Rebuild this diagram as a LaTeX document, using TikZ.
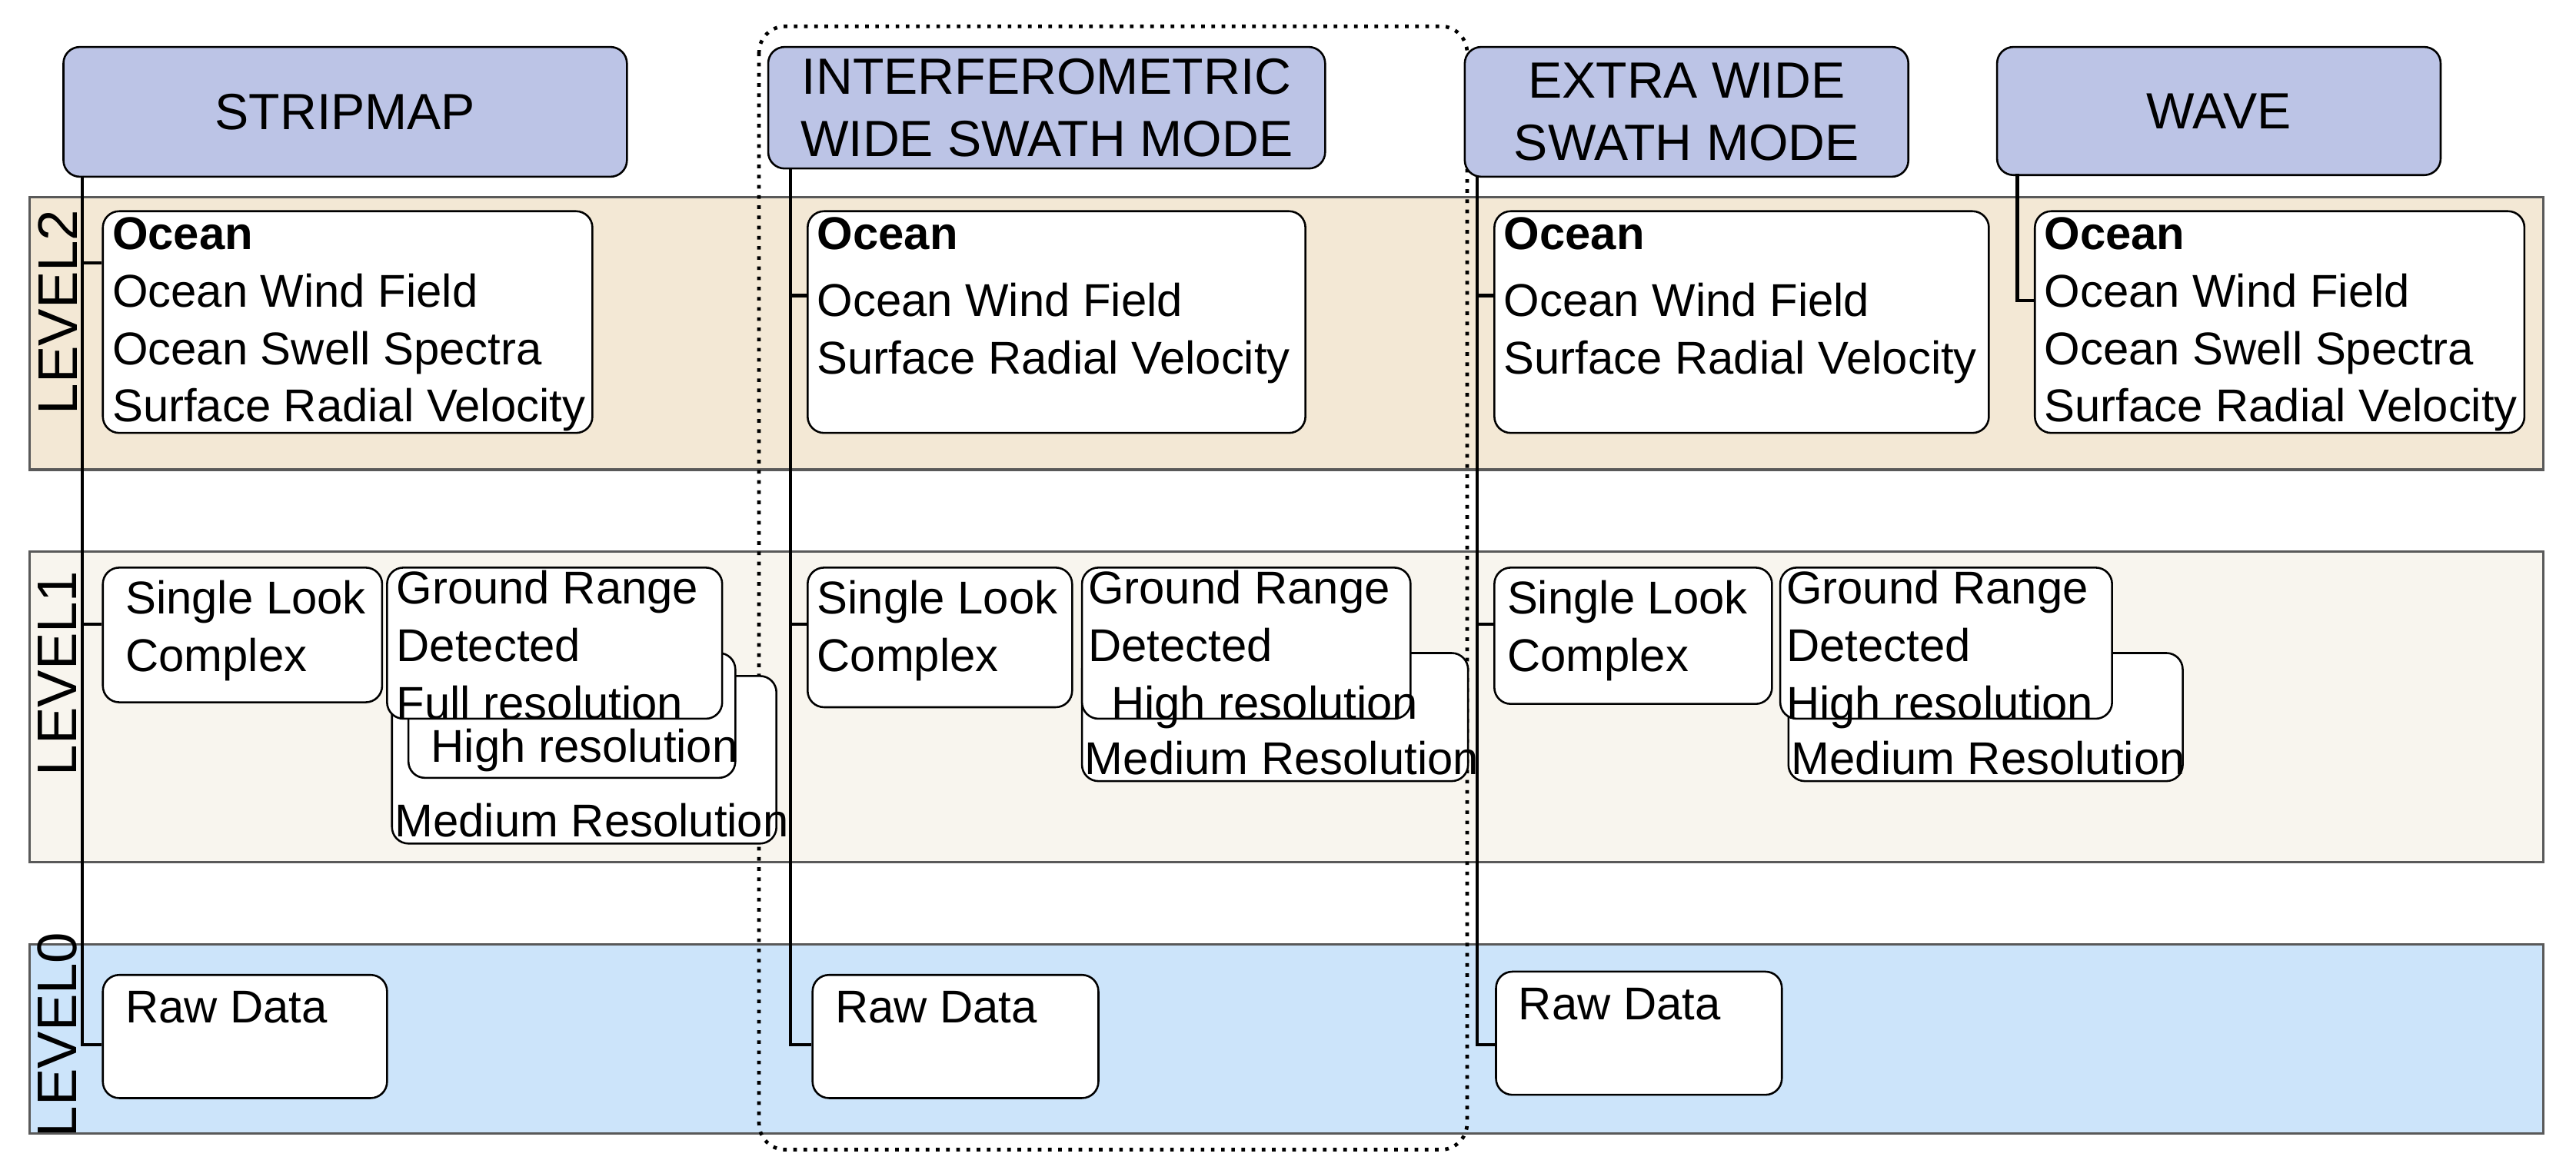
\documentclass[tikz,border=0pt]{standalone}
\usepackage{fontspec}
\setmainfont{Liberation Sans}
\definecolor{hdr}{HTML}{BCC4E6}
\definecolor{lvtwo}{HTML}{F3E8D5}
\definecolor{lvone}{HTML}{F8F5EE}
\definecolor{lvzero}{HTML}{CCE4FA}
\newcommand\mybox[5]{\node[box, anchor=north west, minimum width={(#4-#2)*0.5pt}, minimum height={(#5-#3)*0.5pt}] (#1) at (#2,#3) {};}
\begin{document}
\begin{tikzpicture}[x=0.5pt,y=-0.5pt,
  band/.style={draw=black!65, line width=0.75pt},
  box/.style={draw, fill=white, rounded corners=5pt, line width=0.6pt, inner sep=0pt},
  hbox/.style={draw, fill=hdr, rounded corners=5pt, line width=0.6pt, inner sep=0pt, font=\fontsize{15.5}{19}\selectfont, align=center},
  txt/.style={anchor=north west, inner sep=1pt, align=left, font=\fontsize{14}{17.5}\selectfont},
  lvl/.style={rotate=90, font=\fontsize{17}{19}\selectfont},
  conn/.style={line width=1pt}]
\useasboundingbox (0,0) rectangle (1568,712);
% bands
\fill[lvtwo] (18,120) rectangle (1548,286); \draw[band] (18,120) rectangle (1548,286);
\fill[lvone] (18,336) rectangle (1548,525); \draw[band] (18,336) rectangle (1548,525);
\fill[lvzero] (18,575) rectangle (1548,690); \draw[band] (18,575) rectangle (1548,690);
\node[lvl] (l2) at (35,190) {LEVEL2};
\node[lvl] (l1) at (35,410) {LEVEL1};
\node[lvl] (l0) at (35,630) {LEVEL0};
% dotted frame
\draw[dotted, line width=1.1pt, rounded corners=8pt] (462,16) rectangle (893,700);
% headers
\node[hbox, anchor=north west, minimum width={343*0.5pt}, minimum height={79*0.5pt}] (hs) at (38,28) {STRIPMAP};
\node[hbox, anchor=north west, minimum width={339*0.5pt}, minimum height={74*0.5pt}] (hi) at (467,28) {INTERFEROMETRIC\\WIDE SWATH MODE};
\node[hbox, anchor=north west, minimum width={270*0.5pt}, minimum height={79*0.5pt}] (he) at (891,28) {EXTRA WIDE\\SWATH MODE};
\node[hbox, anchor=north west, minimum width={270*0.5pt}, minimum height={78*0.5pt}] (hw) at (1215,28) {WAVE};
% level2
\mybox{s2}{62}{128}{360}{263}
\node[txt] (s2t) at ([xshift=2pt,yshift=-1pt]s2.north west) {\textbf{Ocean}\\Ocean Wind Field\\Ocean Swell Spectra\\Surface Radial Velocity};
\mybox{i2}{491}{128}{794}{263}
\node[txt] (i2t) at ([xshift=2pt,yshift=-1pt]i2.north west) {\textbf{Ocean}\\[0.2em]Ocean Wind Field\\Surface Radial Velocity};
\mybox{e2}{909}{128}{1210}{263}
\node[txt] (e2t) at ([xshift=2pt,yshift=-1pt]e2.north west) {\textbf{Ocean}\\[0.2em]Ocean Wind Field\\Surface Radial Velocity};
\mybox{w2}{1238}{128}{1536}{263}
\node[txt] (w2t) at ([xshift=2pt,yshift=-1pt]w2.north west) {\textbf{Ocean}\\Ocean Wind Field\\Ocean Swell Spectra\\Surface Radial Velocity};
% level1 stripmap
\mybox{s1a}{62}{345}{232}{427}
\node[txt] (s1at) at ([xshift=6pt,yshift=-3pt]s1a.north west) {Single Look\\Complex};
\mybox{s1m}{238}{411}{472}{513}
\node[txt, anchor=south west] (s1mt) at ([yshift=1pt]s1m.south west) {Medium Resolution};
\mybox{s1h}{248}{397}{447}{473}
\node[txt, anchor=south west] (s1ht) at ([xshift=6pt,yshift=1pt]s1h.south west) {High resolution};
\mybox{s1g}{235}{345}{439}{437}
\node[txt] (s1gt) at ([xshift=2pt,yshift=0pt]s1g.north west) {Ground Range\\Detected\\Full resolution};
% level1 IW
\mybox{i1a}{491}{345}{652}{430}
\node[txt] (i1at) at ([xshift=2pt,yshift=-3pt]i1a.north west) {Single Look\\Complex};
\mybox{i1m}{658}{397}{893}{475}
\node[txt, anchor=south west] (i1mt) at ([yshift=1pt]i1m.south west) {Medium Resolution};
\mybox{i1g}{658}{345}{858}{437}
\node[txt] (i1gt) at ([xshift=1pt,yshift=0pt]i1g.north west) {Ground Range\\Detected\\\hspace{0.5em}High resolution};
% level1 EW
\mybox{e1a}{909}{345}{1078}{428}
\node[txt] (e1at) at ([xshift=3pt,yshift=-3pt]e1a.north west) {Single Look\\Complex};
\mybox{e1m}{1088}{397}{1328}{475}
\node[txt, anchor=south west] (e1mt) at ([yshift=1pt]e1m.south west) {Medium Resolution};
\mybox{e1g}{1083}{345}{1285}{437}
\node[txt] (e1gt) at ([xshift=1pt,yshift=0pt]e1g.north west) {Ground Range\\Detected\\High resolution};
% level0
\mybox{s0}{62}{593}{235}{668}
\node[txt] (s0t) at ([xshift=6pt,yshift=-4pt]s0.north west) {Raw Data};
\mybox{i0}{494}{593}{668}{668}
\node[txt] (i0t) at ([xshift=6pt,yshift=-4pt]i0.north west) {Raw Data};
\mybox{e0}{910}{591}{1084}{666}
\node[txt] (e0t) at ([xshift=6pt,yshift=-4pt]e0.north west) {Raw Data};
% connectors
\coordinate (sv) at (50,107);
\coordinate (iv) at (481,102);
\coordinate (ev) at (899,107);
\coordinate (wv) at (1228,106);
\draw[conn] (sv) |- (s0.west |- 0,636);
\draw[conn] (sv |- 0,160) -- (s2.west |- 0,160);
\draw[conn] (sv |- 0,380) -- (s1a.west |- 0,380);
\draw[conn] (iv) |- (i0.west |- 0,636);
\draw[conn] (iv |- 0,180) -- (i2.west |- 0,180);
\draw[conn] (iv |- 0,380) -- (i1a.west |- 0,380);
\draw[conn] (ev) |- (e0.west |- 0,636);
\draw[conn] (ev |- 0,180) -- (e2.west |- 0,180);
\draw[conn] (ev |- 0,380) -- (e1a.west |- 0,380);
\draw[conn] (wv) |- (w2.west |- 0,183);
\end{tikzpicture}
\end{document}
